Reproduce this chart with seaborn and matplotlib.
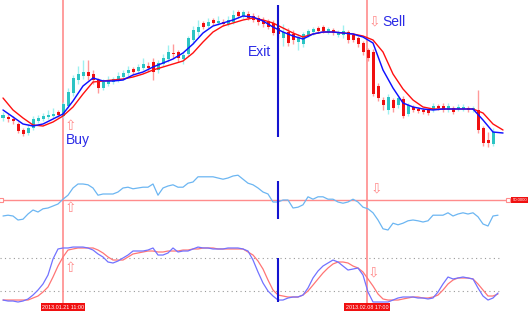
import numpy as np
import pandas as pd
import matplotlib
matplotlib.use("Agg")
import matplotlib.pyplot as plt
import seaborn as sns

# ---------------- data (price units are arbitrary) ----------------
opens = [42, 43, 41, 36, 30, 27, 32, 39, 41, 43,
         44, 48, 44, 54, 67, 80, 84, 88, 86, 80,
         72, 76, 78, 80, 83, 87, 91, 89, 92, 94,
         98, 90, 96, 101, 107, 108, 101, 106, 120, 128,
         137, 134, 140, 137, 138, 136, 138, 148, 144, 146,
         144, 142, 140, 139, 137, 132, 122, 128, 126, 118,
         116, 125, 128, 132, 133, 128, 130, 125, 125, 128,
         125, 122, 117, 110, 108, 74, 60, 50, 60, 55,
         61, 46, 53, 51, 50, 50, 50, 54, 54, 50,
         52, 51, 51, 52, 50, 50, 32, 20, 16]
closes = [45, 41, 39, 29, 26, 32, 41, 42, 44, 45,
          46, 45, 56, 68, 82, 86, 88, 84, 80, 72,
          78, 80, 81, 84, 87, 90, 88, 93, 96, 92,
          88, 97, 102, 108, 106, 102, 105, 122, 130, 133,
          133, 138, 137, 139, 136, 140, 145, 144, 148, 142,
          140, 138, 136, 133, 127, 126, 128, 117, 120, 123,
          126, 129, 131, 129, 129, 131, 127, 128, 129, 120,
          120, 116, 108, 102, 66, 62, 55, 63, 52, 62,
          44, 55, 50, 49, 48, 47, 54, 52, 50, 54,
          48, 53, 53, 50, 52, 30, 17, 17, 28]
highs = [48, 46, 44, 38, 32, 36, 44, 45, 47, 50,
         52, 50, 58, 72, 85, 94, 100, 100, 90, 82,
         81, 84, 83, 88, 90, 94, 93, 96, 102, 98,
         102, 100, 106, 115, 116, 110, 108, 124, 134, 140,
         139, 142, 142, 144, 141, 144, 150, 150, 150, 149,
         147, 145, 143, 141, 140, 134, 136, 132, 130, 126,
         128, 131, 133, 134, 135, 133, 132, 130, 135, 130,
         127, 124, 119, 112, 111, 77, 63, 66, 62, 64,
         64, 57, 55, 53, 52, 52, 57, 56, 57, 57,
         54, 56, 56, 54, 54, 70, 34, 28, 32]
lows = [39, 38, 36, 27, 24, 25, 30, 37, 39, 41,
        42, 43, 42, 52, 64, 76, 81, 80, 76, 67,
        70, 74, 76, 78, 80, 84, 86, 87, 90, 89,
        80, 87, 94, 98, 102, 98, 96, 104, 116, 124,
        131, 132, 135, 135, 134, 134, 136, 142, 141, 140,
        138, 135, 133, 131, 125, 122, 114, 114, 116, 110,
        113, 123, 125, 127, 127, 126, 125, 123, 122, 117,
        118, 113, 105, 99, 64, 59, 50, 46, 48, 52,
        42, 44, 48, 47, 46, 45, 48, 50, 48, 48,
        46, 49, 49, 48, 48, 27, 14, 13, 14]

# moving averages, one value every 2 bars
ma_fast = [50, 43, 36, 34, 36, 41, 46, 59, 74, 82,
           79, 79, 80, 85, 88, 93, 97, 101, 107, 116,
           127, 134, 137, 140, 144, 143, 139, 133, 128, 124,
           121, 126, 128, 128, 127, 126, 123, 117, 90, 72,
           57, 53, 51, 50, 51, 51, 51, 51, 40, 28,
           27]
ma_slow = [62, 50, 42, 35, 34, 38, 44, 53, 66, 78,
           79, 80, 81, 83, 86, 90, 93, 96, 99, 107,
           118, 128, 134, 137, 140, 142, 140, 137, 132, 127,
           123, 126, 128, 128, 127, 126, 124, 120, 108, 86,
           71, 60, 53, 51, 51, 51, 51, 51, 47, 36,
           30]

# RSI, one value per bar
rsi = [30, 31, 30, 25, 26, 32.5, 37.5, 35, 39, 40,
       42.5, 45, 51, 56, 65, 70, 70, 69, 65, 56,
       57.5, 57.5, 57.5, 60, 65, 66, 64, 65, 66, 66,
       70, 56, 65, 67.5, 69, 66, 66, 71, 72.5, 79,
       79, 79, 79, 77.5, 76, 77.5, 80, 81, 76, 71,
       69, 65, 60, 57.5, 47.5, 47.5, 50, 50, 40, 41,
       44, 54, 51, 54, 54, 51, 51, 47.5, 46, 47.5,
       51, 47.5, 41, 39, 34, 25, 14, 12.5, 21, 19,
       21, 24, 25, 24, 22.5, 24, 31, 31, 31, 34,
       30, 32.5, 34, 32.5, 34, 29, 20, 17.5, 30, 31]

# Stochastic %K and %D, one value per bar
stoch_k = [3.6, 1.8, 1.8, 0, 1.8, 5.5, 12.7, 21.8, 32.8, 49.1,
           78.3, 96.5, 98.3, 98.3, 100, 100, 100, 98.3, 94.6, 87.4,
           81.9, 72.8, 71, 74.6, 80.1, 85.5, 92.8, 92.8, 92.8, 94.6,
           98.3, 85.5, 85.5, 89.2, 98.3, 91, 92.8, 92.8, 96.5, 100,
           98.3, 98.3, 96.5, 96.5, 96.5, 98.3, 98.3, 98.3, 96.5, 92.8,
           76.4, 54.6, 34.6, 20, 10.9, 3.6, 3.6, 7.3, 9.1, 9.1,
           12.7, 25.5, 43.7, 56.4, 65.5, 71, 76.4, 72.8, 65.5, 58.2,
           60, 61.9, 49.1, 18.2, 0, 0, 0, 0, 3.6, 7.3,
           9.1, 9.1, 9.1, 7.3, 7.3, 5.5, 7.3, 18.2, 32.8, 45.5,
           41.9, 43.7, 45.5, 43.7, 41.9, 25.5, 10.9, 3.6, 7.3, 16.4]
stoch_d = [3.6, 3.6, 3.6, 3.6, 3.6, 3.6, 7.3, 10.9, 18.2, 27.3,
           45.5, 65.5, 81.9, 94.6, 96.5, 98.3, 98.3, 98.3, 98.3, 94.6,
           89.2, 81.9, 76.4, 76.4, 76.4, 81.9, 87.4, 89.2, 91, 92.8,
           92.8, 91, 91, 92.8, 92.8, 92.8, 94.6, 94.6, 96.5, 96.5,
           98.3, 98.3, 98.3, 96.5, 96.5, 96.5, 96.5, 96.5, 96.5, 91,
           85.5, 74.6, 60, 40, 21.8, 12.7, 10.9, 9.1, 9.1, 9.1,
           12.7, 20, 30.9, 41.9, 52.8, 61.9, 69.2, 72.8, 72.8, 71,
           65.5, 61.9, 54.6, 41.9, 29.1, 14.6, 5.5, 3.6, 3.6, 3.6,
           5.5, 7.3, 9.1, 9.1, 7.3, 7.3, 9.1, 12.7, 21.8, 32.8,
           40, 43.7, 43.7, 43.7, 41.9, 32.8, 21.8, 10.9, 10.9, 14.6]

buy_bar = 12
exit_bar = 55
sell_bar = 72.8
buy_label = "2013.01.21 11:00"
sell_label = "2013.02.08 17:00"
rsi_level_label = "50.0000"
stoch_levels = [20, 80]

# ---------------- figure ----------------
sns.set_theme(style="white")
plt.rcParams["font.family"] = ["Liberation Sans", "DejaVu Sans"]

W, H = 529, 313
fig = plt.figure(figsize=(W / 100, H / 100), dpi=100)
fig.patch.set_facecolor("white")
ax1 = fig.add_axes([0, 1 - 158 / H, 1, 158 / H])
ax2 = fig.add_axes([0, 1 - 242 / H, 1, 84 / H])
ax3 = fig.add_axes([0, 0, 1, 71 / H])
XL = (-0.6, 105.2)
for ax in (ax1, ax2, ax3):
    ax.set_xlim(*XL)
    ax.axis("off")
    ax.patch.set_alpha(0)
ax1.set_ylim(2, 160)
ax2.set_ylim(-2.5, 102.5)
ax3.set_ylim(-20.0, 109.2)

LRED = "#ff8c8c"

# --- candles ---
df = pd.DataFrame({"o": opens, "c": closes, "h": highs, "l": lows})
df["x"] = np.arange(len(df))
bull = df["c"] >= df["o"]
wick_col = np.where(bull, "#9ff0f0", "#ff9a9a")
body_col = np.where(bull, "#2cc4c4", "#f01010")
ax1.vlines(df["x"], df["l"], df["h"], colors=wick_col, lw=1.0, zorder=2)
bottom = np.minimum(df["o"], df["c"])
height = np.maximum(np.abs(df["c"] - df["o"]), 1.2)
ax1.bar(df["x"], height, bottom=bottom, width=0.6, color=body_col,
        edgecolor="none", zorder=3)

# --- moving averages ---
x_ma = np.arange(len(ma_fast)) * 2
sns.lineplot(x=x_ma, y=ma_slow, ax=ax1, color="#ff1010", lw=1.0, zorder=4)
sns.lineplot(x=x_ma, y=ma_fast, ax=ax1, color="#1010ff", lw=1.05, zorder=5)

# --- RSI ---
x_ind = np.arange(len(rsi))
sns.lineplot(x=x_ind, y=rsi, ax=ax2, color="#6cb6f2", lw=0.9, zorder=3)
ax2.hlines(50, -0.4, 101.0, color=LRED, lw=1.0, zorder=2)
ax2.plot([-0.4, 101.0], [50, 50], ls="none", marker="s", ms=2.3,
         mfc="white", mec=LRED, mew=0.8, zorder=4)
ax2.text(101.9, 50, rsi_level_label, ha="left", va="center", fontsize=3.0,
         color="white", bbox=dict(boxstyle="square,pad=0.3", fc="#f01010", ec="none"))

# --- Stochastic ---
for lv in stoch_levels:
    ax3.hlines(lv, -0.6, 99.6, color="#9a9a9a", lw=0.8, ls=(0, (1, 3)), zorder=1)
sns.lineplot(x=x_ind, y=stoch_d, ax=ax3, color="#ff7575", lw=0.9, zorder=3)
sns.lineplot(x=x_ind, y=stoch_k, ax=ax3, color="#7272ff", lw=0.9, zorder=4)

# --- signal lines ---
for b in (buy_bar, sell_bar):
    ax1.axvline(b, color=LRED, lw=1.2, zorder=1)
    ax2.axvline(b, color=LRED, lw=1.2, zorder=1)
    ax3.vlines(b, -1.8, 109.2, color=LRED, lw=1.2, zorder=1)
ax1.vlines(exit_bar, 23, 155, color="#1414d0", lw=1.5, zorder=6)
ax2.vlines(exit_bar, 26.25, 73.75, color="#1414d0", lw=1.5, zorder=6)
ax3.vlines(exit_bar, 0, 80, color="#1414d0", lw=1.5, zorder=6)

for b, lab in ((buy_bar, buy_label), (sell_bar, sell_label)):
    ax3.text(b, -9.5, lab, ha="center", va="center", fontsize=3.9, color="white",
             bbox=dict(boxstyle="square,pad=0.25", fc="#f01010", ec="none"), zorder=7)

# --- annotations ---
BLUE_TXT = "#2a2ae6"
def ftxt(px, py, s, **kw):
    fig.text(px / W, 1 - py / H, s, **kw)

ftxt(66, 140, "Buy", fontsize=10, color=BLUE_TXT, va="center", ha="left")
ftxt(248, 52, "Exit", fontsize=10, color=BLUE_TXT, va="center", ha="left")
ftxt(382, 22, "Sell", fontsize=10, color=BLUE_TXT, va="center", ha="left")
arrow_kw = dict(fontsize=10, color=LRED, va="center", ha="center",
                family="DejaVu Sans")
ftxt(70, 126, "\u21e7", **arrow_kw)
ftxt(374, 21, "\u21e9", **arrow_kw)
ftxt(70, 208, "\u21e7", **arrow_kw)
ftxt(376, 188, "\u21e9", **arrow_kw)
ftxt(70, 268, "\u21e7", **arrow_kw)
ftxt(373, 272, "\u21e9", **arrow_kw)

fig.savefig("out.png", dpi=100, facecolor="white")
